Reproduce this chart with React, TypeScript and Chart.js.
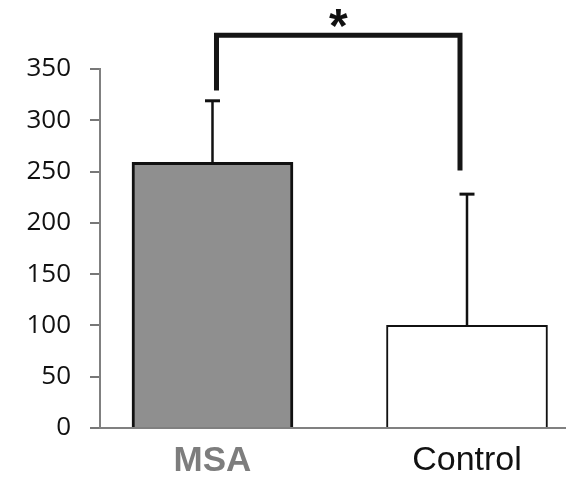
import React, { useEffect, useRef } from "react";
import { Chart, registerables } from "chart.js";

Chart.register(...registerables);

const categories = ["MSA", "Control"];
const values = [259, 100];
const errorUpper = [319, 228];
const yTicks = [0, 50, 100, 150, 200, 250, 300, 350];
const bracketTop = 383;
const bracketBottoms = [329, 251];
const significance = "*";

export default function App() {
  const ref = useRef<HTMLCanvasElement | null>(null);

  useEffect(() => {
    const canvas = ref.current;
    if (!canvas) return;

    const overlay = {
      id: "overlay",
      afterDatasetsDraw(chart: any) {
        const ctx = chart.ctx;
        const xs = chart.scales.x;
        const ys = chart.scales.y;
        ctx.save();
        ctx.strokeStyle = "#111";
        ctx.lineCap = "butt";
        values.forEach((v, i) => {
          const x = xs.getPixelForValue(i);
          const y0 = ys.getPixelForValue(v);
          const y1 = ys.getPixelForValue(errorUpper[i]);
          ctx.lineWidth = 2.5;
          ctx.beginPath();
          ctx.moveTo(x, y0);
          ctx.lineTo(x, y1);
          ctx.stroke();
          ctx.lineWidth = 3;
          ctx.beginPath();
          ctx.moveTo(x - 7.5, y1);
          ctx.lineTo(x + 7.5, y1);
          ctx.stroke();
        });
        const lx = xs.getPixelForValue(0) + 4;
        const rx = xs.getPixelForValue(1) - 7;
        const yt = ys.getPixelForValue(bracketTop);
        ctx.lineWidth = 5;
        ctx.lineJoin = "miter";
        ctx.strokeStyle = "#151515";
        ctx.beginPath();
        ctx.moveTo(lx, ys.getPixelForValue(bracketBottoms[0]));
        ctx.lineTo(lx, yt);
        ctx.lineTo(rx, yt);
        ctx.lineTo(rx, ys.getPixelForValue(bracketBottoms[1]));
        ctx.stroke();
        ctx.fillStyle = "#111";
        ctx.font = "bold 48px 'Liberation Sans', Arial, sans-serif";
        ctx.textAlign = "center";
        ctx.textBaseline = "alphabetic";
        ctx.fillText(significance, (lx + rx) / 2, yt + 7);
        ctx.restore();
      },
    };

    const chart = new Chart(canvas, {
      type: "bar",
      data: {
        datasets: [
          {
            data: values.map((v, i) => ({ x: i, y: v })),
            backgroundColor: ["#8f8f8f", "#ffffff"],
            borderColor: "#111",
            borderWidth: [3, 2],
            barThickness: 161,
          } as any,
        ],
      },
      options: {
        animation: false,
        responsive: false,
        layout: { padding: { top: 69, right: 0, left: 0, bottom: 0 } },
        plugins: { legend: { display: false }, tooltip: { enabled: false } },
        scales: {
          x: {
            type: "linear",
            offset: false,
            bounds: "data",
            min: -0.442,
            max: 1.389,
            afterBuildTicks: (s: any) => {
              s.ticks = categories.map((_, i) => ({ value: i }));
            },
            afterFit: (s: any) => {
              s.height = 59;
            },
            ticks: {
              callback: (v: any) => categories[v] ?? "",
              color: (c: any) => (c.index === 0 ? "#7d7d7d" : "#111"),
              font: (c: any) =>
                c.index === 0
                  ? { family: "'Liberation Sans', Arial, sans-serif", size: 35, weight: "bold" }
                  : { family: "'Liberation Sans', Arial, sans-serif", size: 34, weight: "normal" },
              padding: 12,
              maxRotation: 0,
              autoSkip: false,
            },
            grid: { display: false, drawTicks: false, offset: false },
            border: { color: "#808080", width: 2 },
          } as any,
          y: {
            min: 0,
            max: 350,
            afterBuildTicks: (s: any) => {
              s.ticks = yTicks.map((v) => ({ value: v }));
            },
            afterFit: (s: any) => {
              s.width = 100;
            },
            ticks: {
              font: { family: "'Open Sans', sans-serif", size: 26 },
              color: "#111",
              padding: 19,
            },
            grid: {
              display: true,
              drawOnChartArea: false,
              drawTicks: true,
              tickLength: 10,
              color: "#777",
              lineWidth: 2,
            },
            border: { color: "#808080", width: 2 },
          } as any,
        },
      },
      plugins: [overlay],
    });

    return () => chart.destroy();
  }, []);

  return (
    <div style={{ position: "fixed", left: 0, top: 0, width: 566, height: 487, background: "#fff" }}>
      <canvas ref={ref} width={566} height={487} />
    </div>
  );
}
